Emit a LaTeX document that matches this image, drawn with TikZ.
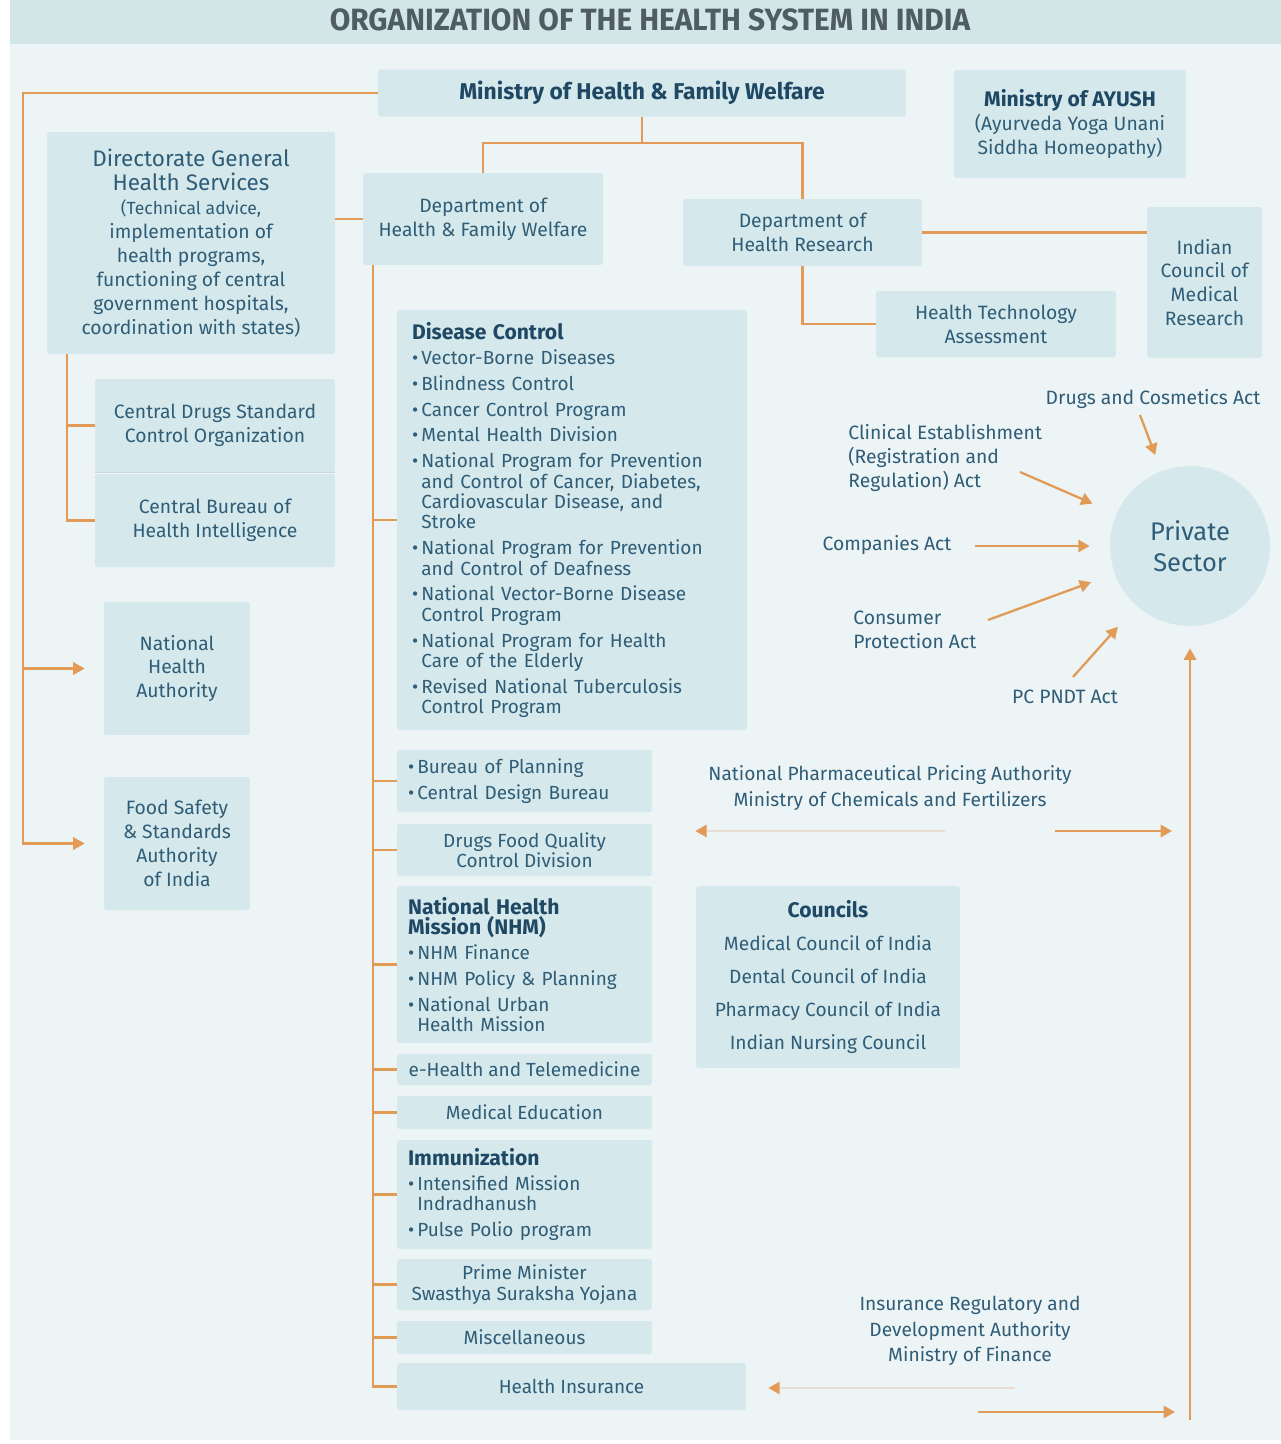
\documentclass[tikz,border=0pt]{standalone}
\usepackage{fontspec}
\setmainfont{Fira Sans}
\usepackage{graphicx}
\usetikzlibrary{arrows.meta}
\definecolor{panel}{HTML}{EDF4F5}
\definecolor{band}{HTML}{D2E6E8}
\definecolor{boxfill}{HTML}{D5E8EB}
\definecolor{ink}{HTML}{2F5D78}
\definecolor{inkdark}{HTML}{1E4864}
\definecolor{titlegray}{HTML}{505C64}
\definecolor{branch}{HTML}{E29A57}
\definecolor{branchpale}{HTML}{E9DDD3}
\newcommand{\bodysize}{\fontsize{11}{13.6}\selectfont}
\newcommand{\listsize}{\fontsize{10.8}{11.6}\selectfont}
\newcommand{\itm}{\textbullet\,}
\newcommand{\cnt}{\phantom{\textbullet\,}}
\newcommand{\hd}[1]{\textcolor{inkdark}{\fontsize{12}{12}\selectfont\bfseries #1}}

\begin{document}
\begin{tikzpicture}[x=0.02cm,y=-0.02cm,
    box/.style={fill=boxfill, text=ink, align=center, inner sep=0pt, rounded corners=1.5pt, font=\bodysize},
    listbox/.style={fill=boxfill, text=ink, align=left, inner xsep=0.22cm, inner ysep=0pt, rounded corners=1.5pt, font=\listsize},
    act/.style={text=ink, align=center, inner sep=0pt, font=\fontsize{11}{13.6}\selectfont},
    wire/.style={draw=branch, line width=1.3pt},
    arr/.style={wire, -{Triangle[length=6.5pt,width=7pt]}},
    palearr/.style={draw=branchpale, line width=1.3pt, -{Triangle[length=6.5pt,width=7pt,color=branch]}}]
    \useasboundingbox (0,0) rectangle (1281,1444);
    \fill[white] (0,0) rectangle (1281,1444);
    \fill[panel] (10,0) rectangle (1281,1440);
    \fill[band] (10,0) rectangle (1281,44);
    \node (title) at (650,20) [text=titlegray, font=\fontsize{17.5}{20}\selectfont\bfseries]
        {\scalebox{0.97}[1]{ORGANIZATION OF THE HEALTH SYSTEM IN INDIA}};

    % ministries and departments
    \node (mohfw) at (642,93) [box, minimum width=10.56cm, minimum height=0.94cm, font=\fontsize{13}{15}\selectfont\bfseries, text=inkdark]
        {Ministry of Health \& Family Welfare};
    \node (ayush) at (1070,124) [box, minimum width=4.64cm, minimum height=2.16cm]
        {\hd{Ministry of AYUSH}\\ (Ayurveda Yoga Unani\\ Siddha Homeopathy)};
    \node (dghs) at (191,243) [box, minimum width=5.76cm, minimum height=4.44cm]
        {\fontsize{12.8}{14.7}\selectfont Directorate General\\
         \fontsize{12.8}{14.7}\selectfont Health Services\\
         \fontsize{10}{13.6}\selectfont (Technical advice,\\ implementation of\\ health programs,\\
         functioning of central\\ government hospitals,\\ coordination with states)};
    \node (dhfw) at (483,219) [box, minimum width=4.8cm, minimum height=1.84cm]
        {Department of\\ Health \& Family Welfare};
    \node (dhr) at (802.5,232.5) [box, minimum width=4.78cm, minimum height=1.34cm]
        {Department of\\ Health Research};
    \node (icmr) at (1204.5,282.5) [box, minimum width=2.3cm, minimum height=3.02cm]
        {Indian\\ Council of\\ Medical\\ Research};
    \node (hta) at (996,324) [box, minimum width=4.8cm, minimum height=1.32cm]
        {Health Technology\\ Assessment};

    % under the directorate
    \node (cdsco) at (215,425.5) [box, minimum width=4.8cm, minimum height=1.86cm]
        {Central Drugs Standard\\ Control Organization};
    \node (cbhi) at (215,520.5) [box, minimum width=4.8cm, minimum height=1.86cm]
        {Central Bureau of\\ Health Intelligence};
    \draw[boxfill!70!ink!60, line width=0.8pt] (cdsco.south west) -- (cdsco.south east);
    \node (nha) at (177,668.5) [box, minimum width=2.92cm, minimum height=2.66cm]
        {National\\ Health\\ Authority};
    \node (fssai) at (177,843.5) [box, minimum width=2.92cm, minimum height=2.66cm]
        {Food Safety\\ \& Standards\\ Authority\\ of India};

    % divisions of the department
    \node (dis) at (572,520) [listbox, inner xsep=0.3cm, text width=6.4cm, minimum height=8.4cm]
        {\hd{Disease Control}\\[2.6pt]
         \itm Vector-Borne Diseases\\[3.1pt]
         \itm Blindness Control\\[3.1pt]
         \itm Cancer Control Program\\[3.1pt]
         \itm Mental Health Division\\[3.1pt]
         \itm National Program for Prevention\\ \cnt and Control of Cancer, Diabetes,\\ \cnt Cardiovascular Disease, and\\ \cnt Stroke\\[3.1pt]
         \itm National Program for Prevention\\ \cnt and Control of Deafness\\[3.1pt]
         \itm National Vector-Borne Disease\\ \cnt Control Program\\[3.1pt]
         \itm National Program for Health\\ \cnt Care of the Elderly\\[3.1pt]
         \itm Revised National Tuberculosis\\ \cnt Control Program};
    \node (bureau) at (524.5,781) [listbox, text width=4.66cm, minimum height=1.24cm]
        {\itm Bureau of Planning\\[3.1pt] \itm Central Design Bureau};
    \node (dfq) at (524.5,850) [box, minimum width=5.1cm, minimum height=1.04cm, font=\listsize]
        {Drugs Food Quality\\ Control Division};
    \node (nhm) at (524.5,964.5) [listbox, text width=4.66cm, minimum height=3.14cm]
        {\hd{National Health}\\ \hd{Mission (NHM)}\\[2.6pt]
         \itm NHM Finance\\[3.1pt]
         \itm NHM Policy \& Planning\\[3.1pt]
         \itm National Urban\\ \cnt Health Mission};
    \node (ehealth) at (524.5,1069.5) [box, minimum width=5.1cm, minimum height=0.62cm, font=\listsize]
        {e-Health and Telemedicine};
    \node (meded) at (524.5,1112.5) [box, minimum width=5.1cm, minimum height=0.66cm, font=\listsize]
        {Medical Education};
    \node (immun) at (524.5,1194.5) [listbox, text width=4.66cm, minimum height=2.18cm]
        {\hd{Immunization}\\[2.6pt]
         \itm Intensified Mission\\ \cnt Indradhanush\\[3.1pt]
         \itm Pulse Polio program};
    \node (pmssy) at (524.5,1284.5) [box, minimum width=5.1cm, minimum height=1.02cm, font=\listsize]
        {Prime Minister\\ Swasthya Suraksha Yojana};
    \node (misc) at (524.5,1337.5) [box, minimum width=5.1cm, minimum height=0.66cm, font=\listsize]
        {Miscellaneous};
    \node (hins) at (571.5,1386.5) [box, minimum width=6.98cm, minimum height=0.94cm, font=\listsize]
        {Health Insurance};

    \node (councils) at (828,977) [box, minimum width=5.28cm, minimum height=3.64cm, font=\fontsize{10.9}{18.7}\selectfont]
        {\hd{Councils}\\ Medical Council of India\\ Dental Council of India\\ Pharmacy Council of India\\ Indian Nursing Council};

    % private sector and the acts
    \node (private) at (1190,546) [circle, fill=boxfill, text=ink, minimum size=3.2cm, inner sep=0pt, align=center,
        font=\fontsize{14.5}{17.5}\selectfont] {Private\\ Sector};
    \node (dca) at (1153,399) [act] {Drugs and Cosmetics Act};
    \node (cea) at (848,458) [act, anchor=west, align=left] {Clinical Establishment\\ (Registration and\\ Regulation) Act};
    \node (comp) at (887,545) [act] {Companies Act};
    \node (cpa) at (853,630) [act, anchor=west, align=left] {Consumer\\ Protection Act};
    \node (pcp) at (1065,697) [act] {PC PNDT Act};
    \node (nppa) at (890,788) [act, font=\fontsize{10.9}{15.3}\selectfont] {National Pharmaceutical Pricing Authority\\ Ministry of Chemicals and Fertilizers};
    \node (irda) at (970,1331) [act, font=\fontsize{10.9}{14.7}\selectfont] {Insurance Regulatory and\\ Development Authority\\ Ministry of Finance};

    % connectors
    \coordinate (split) at (642,143);
    \draw[wire] (mohfw.south) -- (split) -| (dhfw.north);
    \draw[wire] (split) -| (dhr.north);
    \coordinate (ltrunk) at (23,93);
    \draw[arr, shorten >=0.38cm] (mohfw.west) -- (ltrunk) |- (fssai.west);
    \draw[arr, shorten >=0.38cm] (ltrunk |- nha.west) -- (nha.west);
    \draw[wire] (dghs.east |- dhfw.west) -- (dhfw.west);
    \coordinate (dtrunk) at ([xshift=0.4cm]dghs.south west);
    \draw[wire] (dtrunk) |- (cbhi.west);
    \draw[wire] (dtrunk |- cdsco.west) -- (cdsco.west);
    \coordinate (htrunk) at ([xshift=0.2cm]dhfw.south west);
    \draw[wire] (htrunk) |- (hins.west);
    \foreach \n in {dis,bureau,dfq,nhm,ehealth,meded,immun,pmssy,misc}
        \draw[wire] (htrunk |- \n.west) -- (\n.west);
    \draw[wire] (dhr.east) -- (dhr.east -| icmr.west);
    \draw[wire] (dhr.south) |- (hta.west);

    \coordinate (dcaT) at (1140,415);
    \coordinate (ceaT) at (1020,472);
    \coordinate (compT) at (975,546);
    \coordinate (cpaT) at (988,620);
    \coordinate (pcpT) at (1073,677);
    \coordinate (vbot) at (1190,1420);
    \draw[arr, shorten >=0.34cm] (dcaT) -- (private);
    \draw[arr, shorten >=0.52cm] (ceaT) -- (private);
    \draw[arr, shorten >=0.4cm] (compT) -- (private);
    \draw[arr, shorten >=0.5cm] (cpaT) -- (private);
    \draw[arr, shorten >=0.56cm] (pcpT) -- (private);
    \draw[arr, shorten >=0.44cm] (vbot) -- (private.south);

    \coordinate (nppaL) at (945,831);
    \coordinate (nppaR) at (1055,831);
    \draw[palearr, shorten >=0.86cm] (nppaL) -- (nppaL -| dfq.east);
    \draw[arr, shorten >=0.36cm] (nppaR) -- (nppaR -| vbot);
    \coordinate (irdaL) at (1015,1388);
    \coordinate (irdaR) at (978,1412);
    \draw[palearr, shorten >=0.44cm] (irdaL) -- (irdaL -| hins.east);
    \draw[arr, shorten >=0.3cm] (irdaR) -- (irdaR -| vbot);
\end{tikzpicture}
\end{document}
